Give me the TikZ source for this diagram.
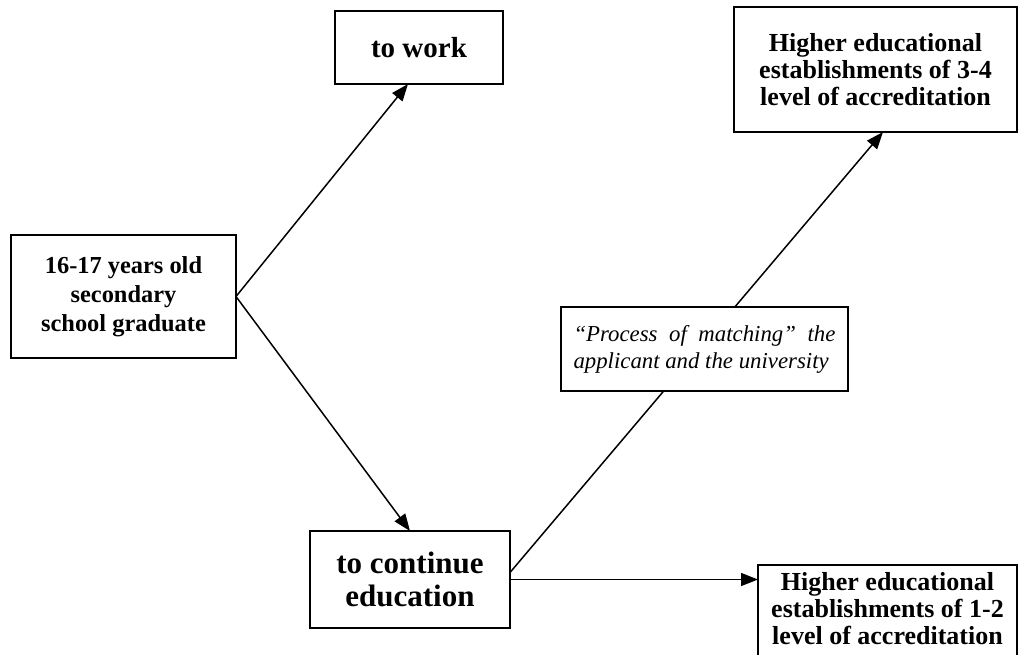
\documentclass[tikz,border=0pt]{standalone}
\usepackage{fontspec}
\setmainfont{Liberation Serif}
\usetikzlibrary{positioning}
\usetikzlibrary{arrows.meta}

\begin{document}
\begin{tikzpicture}[>={Triangle[length=8.5pt,width=6.5pt]},x=0.5pt,y=-0.5pt,
	box/.style={draw=black,line width=1pt,outer sep=0pt,inner sep=0pt,align=center,fill=white},
	link/.style={->,line width=0.75pt}]
	\useasboundingbox (0,0) rectangle (1022,654);
	\clip (0,0) rectangle (1022,654);

	\node [box,minimum width=112.5pt,minimum height=61.5pt,font=\bfseries\fontsize{12.2}{14.5}\selectfont] at (123.5,296.5) (grad) {16-17 years old\\secondary\\school graduate};
	\node [box,minimum width=84pt,minimum height=36.5pt,font=\bfseries\fontsize{14.5}{16.5}\selectfont] at (419,47.5) (work) {to work};
	\node [box,minimum width=100pt,minimum height=48.5pt,font=\bfseries\fontsize{15.5}{16.5}\selectfont] at (410,579.5) (contedu) {to continue\\education};
	\node [box,minimum width=141.5pt,minimum height=62.5pt,font=\bfseries\fontsize{13}{13.5}\selectfont] at (875.5,69.5) (high34) {Higher educational\\establishments of 3-4\\level of accreditation};
	\node [box,minimum width=129.5pt,minimum height=60pt,anchor=north west] at (758,565) (high12) {};
	\node [below=3.5pt of high12.north,align=center,inner sep=0pt,font=\bfseries\fontsize{13}{13.5}\selectfont] (high12text) {Higher educational\\establishments of 1-2\\level of accreditation};

	% arrows
	\draw [link] (grad.east) -- ([xshift=-5.5pt]work.south);
	\draw [link] (grad.east) -- (contedu.north);
	\draw [link] (contedu.4) -- ([xshift=3.75pt]high34.south);
	\draw [link] (contedu.east) -- (contedu.east -| high12.west);

	\node [box,minimum width=143.5pt,minimum height=42pt,text width=131pt,align=justify,font=\itshape\fontsize{11.4}{13.5}\selectfont] at (704.5,349) (matching) {``Process of matching'' the\linebreak applicant and the university};
\end{tikzpicture}
\end{document}
